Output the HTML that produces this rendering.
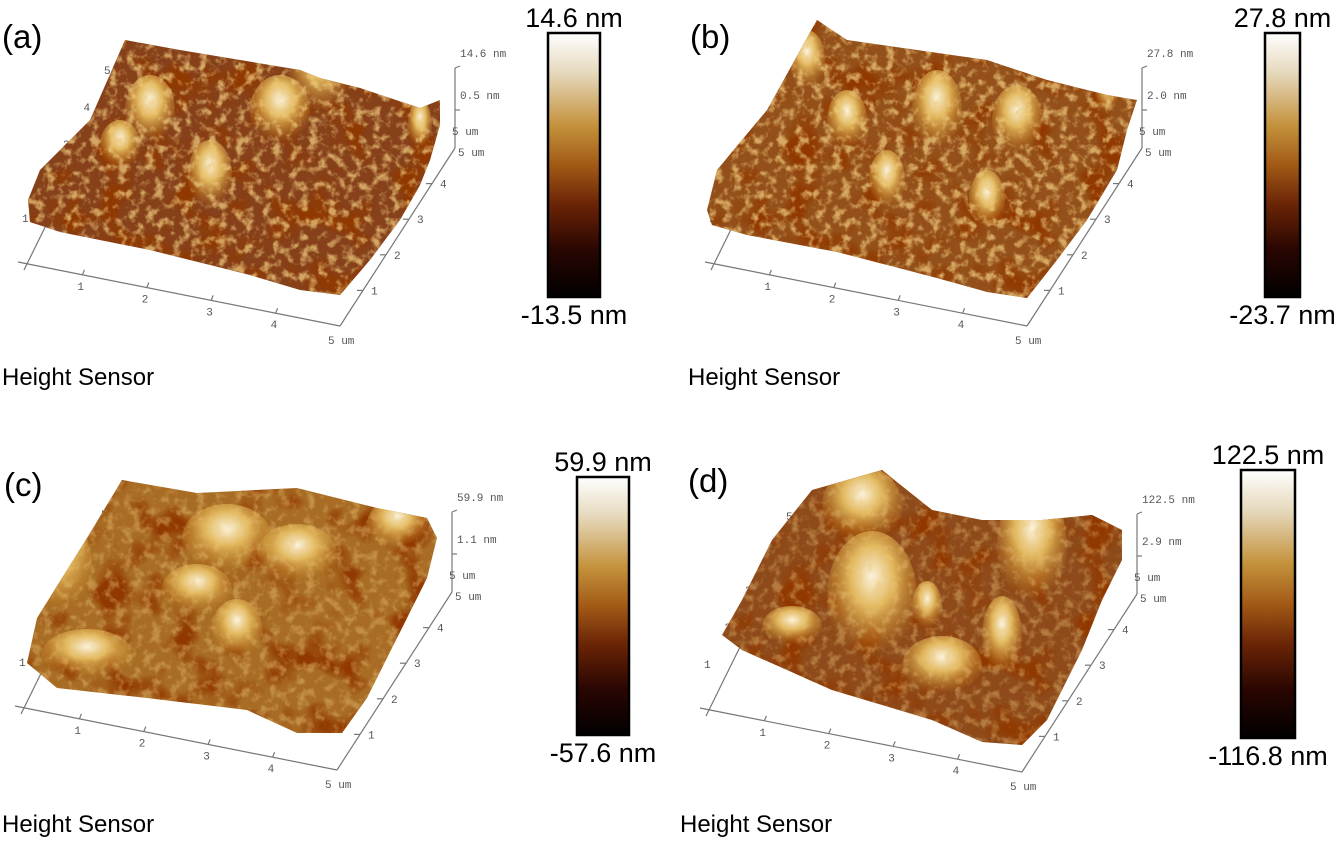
<!DOCTYPE html>
<html><head><meta charset="utf-8">
<style>
html,body{margin:0;padding:0;background:#fff;}
svg{display:block;font-family:"Liberation Sans",sans-serif;}
.tk{font-family:"Liberation Mono",monospace;font-size:11px;fill:#555;}
</style></head>
<body>
<svg id="fig" width="1339" height="841" viewBox="0 0 1339 841">
<defs>
<linearGradient id="cbar" x1="0" y1="0" x2="0" y2="1">
<stop offset="0" stop-color="#ffffff"/>
<stop offset="0.15" stop-color="#e6d9bd"/>
<stop offset="0.35" stop-color="#c4923c"/>
<stop offset="0.5" stop-color="#a25a16"/>
<stop offset="0.65" stop-color="#6a2406"/>
<stop offset="0.82" stop-color="#2a0602"/>
<stop offset="1" stop-color="#000000"/>
</linearGradient>
<radialGradient id="hl" cx="0.5" cy="0.35" r="0.6">
<stop offset="0" stop-color="#fbf3dc"/>
<stop offset="0.4" stop-color="#e2b85e"/>
<stop offset="1" stop-color="#c98a2a" stop-opacity="0"/>
</radialGradient>
<filter id="rough" x="0" y="0" width="100%" height="100%">
<feTurbulence type="fractalNoise" baseFrequency="0.11" numOctaves="3" seed="4"/>
<feColorMatrix type="matrix" values="0 0 0 0 0.85  0 0 0 0 0.58  0 0 0 0 0.2  0 0 0 3.6 -1.7"/>
</filter>
<filter id="dark" x="0" y="0" width="100%" height="100%">
<feTurbulence type="fractalNoise" baseFrequency="0.03" numOctaves="2" seed="9"/>
<feColorMatrix type="matrix" values="0 0 0 0 0.28  0 0 0 0 0.04  0 0 0 0 0.0  0 0 0 4 -1.9"/>
</filter>
</defs>
</svg>
<script>
const panelLetters = ["(a)","(b)","(c)","(d)"];
const zMax = ["14.6 nm","27.8 nm","59.9 nm","122.5 nm"];
const zMin = ["-13.5 nm","-23.7 nm","-57.6 nm","-116.8 nm"];
const zMid = ["0.5 nm","2.0 nm","1.1 nm","2.9 nm"];
const xTicks = ["1","2","3","4"];
const yTicks = ["1","2","3","4"];
const leftTicks = ["1","2","3","4","5"];

const svg = document.getElementById('fig');
const NS = 'http://www.w3.org/2000/svg';
function mk(tag, attrs, parent){ const e=document.createElementNS(NS,tag); for(const k in attrs) e.setAttribute(k,attrs[k]); (parent||svg).appendChild(e); return e; }

const offs = [[0,0],[687,0],[-3,444],[682,446]];
const cbars = [[548,33,52,264],[1265,33,35,264],[577,477,52,258],[1241,470,54,268]];
const letterPos = [[2,48],[690,48],[4,496],[688,492]];
const hsPos = [[2,385],[688,385],[2,832],[680,832]];
const bases = ["#86401a","#94501a","#a86c24","#8e4a1a"];
const surfaces = [
 "28,200 40,170 90,120 125,40 180,50 300,70 320,78 360,88 420,108 440,100 440,125 430,160 420,185 400,220 370,260 340,295 300,290 250,275 150,250 60,232 30,222",
 "20,210 30,170 80,110 130,20 160,40 300,60 360,80 420,95 450,100 440,130 430,170 400,220 370,260 340,298 300,292 250,278 150,252 60,235 25,225",
 "30,219 40,174 90,94 125,36 200,49 300,44 380,64 430,74 440,94 430,134 400,194 370,254 345,289 300,289 250,266 150,254 60,244",
 "40,189 60,154 90,94 130,44 200,24 250,64 300,74 360,74 410,69 440,84 440,114 420,154 400,204 365,274 340,299 300,296 250,274 150,244 60,204"
];
const highs = [
 [[150,110,25,35],[210,175,22,35],[320,70,30,45],[280,110,30,35],[120,145,20,25],[420,125,12,25]],
 [[250,110,25,40],[330,120,25,35],[160,120,20,30],[200,180,18,30],[300,200,18,30],[120,60,18,30],[420,90,12,25]],
 [[60,120,35,50],[230,95,45,35],[240,185,25,30],[200,145,35,25],[90,210,45,25],[300,110,40,30],[400,80,30,25]],
 [[180,60,40,40],[190,150,45,65],[350,100,35,60],[260,220,40,30],[320,190,20,40],[245,160,15,25],[110,180,30,20]]
];

for(let i=0;i<4;i++){
 const [ox,oy]=offs[i];
 const g = mk('g',{transform:`translate(${ox},${oy})`});
 
 
 const ax = mk('g',{stroke:'#777','stroke-width':'1.2',fill:'none'},g);
 
 
 mk('line',{x1:18,y1:262,x2:340,y2:326},ax);
 mk('line',{x1:340,y1:326,x2:455,y2:148},ax);
 mk('line',{x1:24,y1:270,x2:120,y2:75},ax);
 mk('line',{x1:455,y1:148,x2:455,y2:68},ax);
 mk('line',{x1:455,y1:68,x2:460,y2:66},ax);
 mk('line',{x1:455,y1:110,x2:460,y2:110},ax);
 xTicks.forEach((t,k)=>{
  const f=(k+1)/5, x=18+f*322, y=262+f*64;
  mk('line',{x1:x,y1:y,x2:x+2,y2:y-5},ax);
  const tx=mk('text',{x:x-5,y:y+15,class:'tk'},g); tx.textContent=t;
   
 });
 yTicks.forEach((t,k)=>{
  const f=(k+1)/5, x=340+f*115, y=326-f*178;
  mk('line',{x1:x,y1:y,x2:x-6,y2:y},ax);
  const tx=mk('text',{x:x+8,y:y+4,class:'tk'},g); tx.textContent=t;
   
 });
 leftTicks.forEach((t,k)=>{
  const f=k/4, x=26+f*82, y=222-f*148;
  const tx=mk('text',{x:x-4,y:y,class:'tk'},g); tx.textContent=t;
   
 });
 [["5 um",328,344],["5 um",458,156],["5 um",452,135],[zMid[i],460,99],[zMax[i],460,57]].forEach(a=>{
  const tx=mk('text',{x:a[1],y:a[2],class:'tk'},g); tx.textContent=a[0];
   
 });
 const cp = mk('clipPath',{id:'clip'+i},g);
 mk('polygon',{points:surfaces[i]},cp);
 const sg = mk('g',{'clip-path':`url(#clip${i})`},g);
 
 
 mk('rect',{x:0,y:0,width:460,height:340,fill:bases[i]},sg);
 mk('rect',{x:0,y:0,width:460,height:340,filter:'url(#dark)'},sg);
 highs[i].forEach(h=>mk('ellipse',{cx:h[0],cy:h[1],rx:h[2],ry:h[3],fill:'url(#hl)'},sg));
 mk('rect',{x:0,y:0,width:460,height:340,filter:'url(#rough)',opacity:i<2?0.75:0.4},sg);
 const c=cbars[i];
 const cb = mk('rect',{x:c[0]-ox,y:c[1]-oy,width:c[2],height:c[3],fill:'url(#cbar)',stroke:'#000','stroke-width':2.5},g);
  
 const cx=c[0]+c[2]/2-ox;
 const t1=mk('text',{x:cx,y:c[1]-oy-6,'text-anchor':'middle','font-size':27},g); t1.textContent=zMax[i];
  
 const t2=mk('text',{x:cx,y:c[1]+c[3]-oy+27,'text-anchor':'middle','font-size':27},g); t2.textContent=zMin[i];
  
 const pl=mk('text',{x:letterPos[i][0]-ox,y:letterPos[i][1]-oy,'font-size':33},g); pl.textContent=panelLetters[i];
  
 const hs=mk('text',{x:hsPos[i][0]-ox,y:hsPos[i][1]-oy,'font-size':24},g); hs.textContent='Height Sensor';
  
}
</script>
</body></html>
